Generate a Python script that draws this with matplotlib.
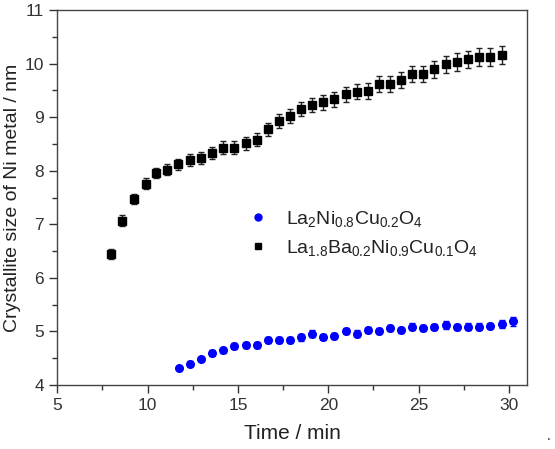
import numpy as np
import matplotlib
matplotlib.use("Agg")
import matplotlib.pyplot as plt
from matplotlib.ticker import MultipleLocator
from matplotlib.lines import Line2D

plt.rcParams['font.family'] = ['Liberation Sans', 'DejaVu Sans']
plt.rcParams['mathtext.fontset'] = 'custom'
plt.rcParams['mathtext.rm'] = 'Liberation Sans'
plt.rcParams['mathtext.it'] = 'Liberation Sans'

# La1.8Ba0.2Ni0.9Cu0.1O4 (black squares)
t_ba = [8.0, 8.6, 9.26, 9.9, 10.48, 11.1, 11.7, 12.33, 12.95, 13.57, 14.16, 14.77,
        15.42, 16.03, 16.64, 17.27, 17.86, 18.49, 19.11, 19.72, 20.33, 20.96, 21.57,
        22.18, 22.81, 23.42, 24.03, 24.64, 25.27, 25.88, 26.5, 27.1, 27.72, 28.35,
        28.97, 29.6]
size_ba = [6.45, 7.07, 7.47, 7.76, 7.96, 8.02, 8.12, 8.20, 8.24, 8.33, 8.43, 8.43,
           8.51, 8.58, 8.77, 8.92, 9.03, 9.16, 9.23, 9.28, 9.33, 9.43, 9.47,
           9.49, 9.62, 9.62, 9.70, 9.80, 9.80, 9.89, 9.99, 10.03, 10.08, 10.13,
           10.13, 10.16]
err_ba = [0.09, 0.1, 0.1, 0.1, 0.1, 0.1, 0.1, 0.11, 0.11, 0.11, 0.12, 0.12,
          0.12, 0.12, 0.12, 0.13, 0.13, 0.13, 0.13, 0.14, 0.14, 0.14, 0.14,
          0.15, 0.15, 0.15, 0.15, 0.15, 0.15, 0.16, 0.16, 0.16, 0.16, 0.17,
          0.17, 0.17]

# La2Ni0.8Cu0.2O4 (blue circles)
t_la = [11.72, 12.34, 12.95, 13.57, 14.18, 14.77, 15.42, 16.03, 16.64, 17.27, 17.88,
        18.49, 19.11, 19.72, 20.33, 20.96, 21.57, 22.18, 22.81, 23.42, 24.03, 24.64,
        25.27, 25.88, 26.5, 27.1, 27.72, 28.35, 28.97, 29.6, 30.2]
size_la = [4.32, 4.40, 4.49, 4.60, 4.65, 4.73, 4.75, 4.75, 4.84, 4.84, 4.84,
           4.89, 4.96, 4.90, 4.91, 5.01, 4.96, 5.03, 5.01, 5.06, 5.03, 5.09,
           5.06, 5.08, 5.12, 5.08, 5.09, 5.09, 5.10, 5.14, 5.19]
err_la = [0.04, 0.04, 0.04, 0.05, 0.05, 0.05, 0.05, 0.05, 0.05, 0.05, 0.05,
          0.06, 0.06, 0.06, 0.06, 0.06, 0.06, 0.06, 0.06, 0.06, 0.06, 0.06,
          0.06, 0.06, 0.07, 0.06, 0.06, 0.06, 0.06, 0.07, 0.08]

lab_la = r'La$_2$Ni$_{0.8}$Cu$_{0.2}$O$_4$'
lab_ba = r'La$_{1.8}$Ba$_{0.2}$Ni$_{0.9}$Cu$_{0.1}$O$_4$'

fig = plt.figure(figsize=(5.55, 4.49), dpi=100)
ax = fig.add_axes([0.1032, 0.1425, 0.8463, 0.8352])

ax.errorbar(t_la, size_la, yerr=err_la, fmt='o', color='#0000ff', ms=5.5,
            ecolor='#0000ff', elinewidth=1, capsize=2)
ax.errorbar(t_ba, size_ba, yerr=err_ba, fmt='s', color='black', ms=5.5,
            ecolor='#222222', elinewidth=1, capsize=2)

ax.set_xlim(5, 31)
ax.set_ylim(4, 11)
ax.xaxis.set_major_locator(MultipleLocator(5))
ax.xaxis.set_minor_locator(MultipleLocator(2.5))
ax.yaxis.set_major_locator(MultipleLocator(1))
ax.yaxis.set_minor_locator(MultipleLocator(0.5))
ax.tick_params(which='major', direction='out', length=6, width=1, labelsize=12.5,
               colors='#333333')
ax.tick_params(which='minor', direction='out', length=3.5, width=1, colors='#333333')
for s in ax.spines.values():
    s.set_color('#444444')
    s.set_linewidth(1)

ax.set_xlabel('Time / min', fontsize=15, color='#222222', labelpad=8)
ax.set_ylabel('Crystallite size of Ni metal / nm', fontsize=14, color='#222222', labelpad=3)

handles = [Line2D([], [], ls='none', marker='o', ms=5, color='#0000ff'),
           Line2D([], [], ls='none', marker='s', ms=5, color='black')]
leg = ax.legend(handles, [lab_la, lab_ba], loc='center left',
                bbox_to_anchor=(0.4066, 0.405), frameon=False, fontsize=14,
                handlelength=1, handletextpad=0.94, borderpad=0, borderaxespad=0,
                labelspacing=0.45)
for txt in leg.get_texts():
    txt.set_color('#222222')

fig.text(0.985, 0.02, '.', fontsize=10, color='#222222')

fig.savefig('out.png', dpi=100)
